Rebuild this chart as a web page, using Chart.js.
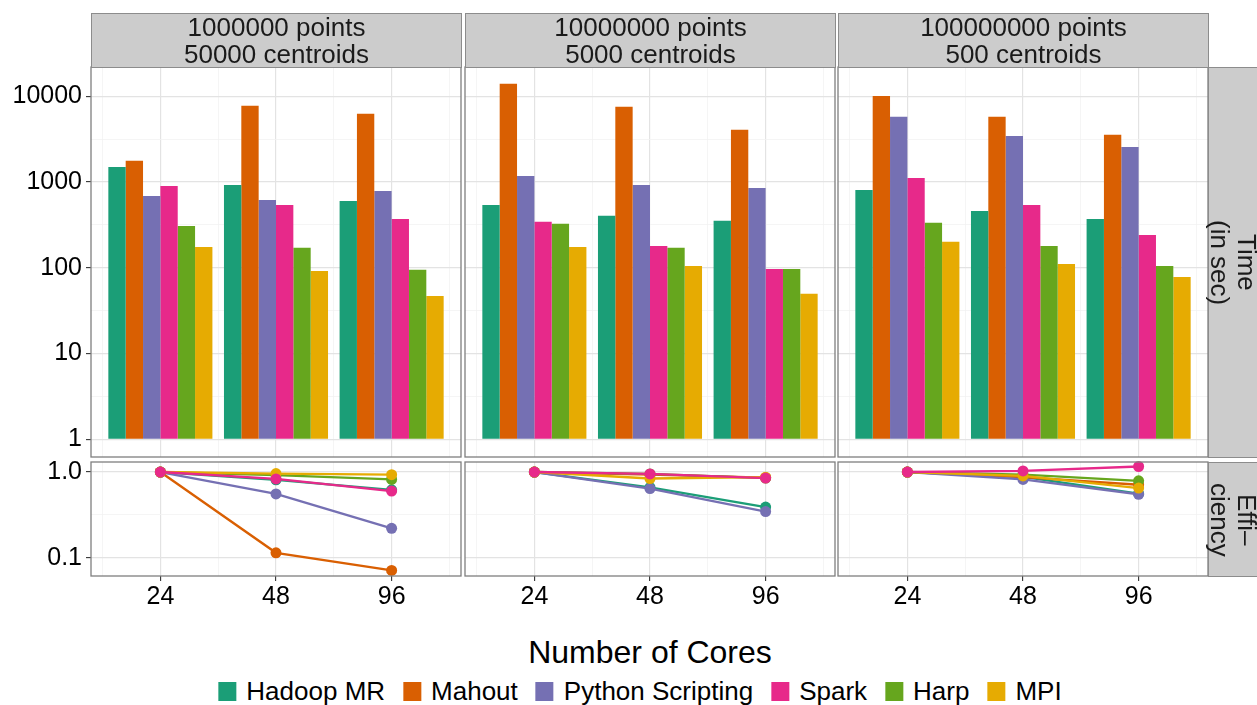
<!DOCTYPE html>
<html>
<head>
<meta charset="utf-8">
<script src="https://cdn.jsdelivr.net/npm/chart.js@4.4.0/dist/chart.umd.min.js"></script>
<style>
  html, body { margin: 0; padding: 0; background: #fff; }
  body { width: 1257px; height: 705px; position: relative; overflow: hidden;
         font-family: "Liberation Sans", Arial, sans-serif; color: #000; }
  canvas { position: absolute; }
  .strip { position: absolute; background: #CCCCCC; border: 1px solid #8C8C8C; box-sizing: border-box;
           display: flex; align-items: center; justify-content: center; text-align: center;
           font-size: 26px; line-height: 27px; color: #1a1a1a; }
  .vstrip { writing-mode: vertical-rl; border-right: none; }
  #xtitle { position: absolute; left: 650px; top: 634px; transform: translateX(-50%);
            font-size: 32px; white-space: nowrap; }
  #legend { position: absolute; left: 640px; top: 676px; transform: translateX(-50%);
            display: flex; align-items: center; white-space: nowrap; font-size: 26px; }
  .item { display: flex; align-items: center; margin-right: 18px; }
  .item:last-child { margin-right: 0; }
  .key { width: 18px; height: 19px; margin-right: 10px; }
</style>
</head>
<body>
<script>
// categories
var cores = ["24", "48", "96"];
var frameworks = ["Hadoop MR", "Mahout", "Python Scripting", "Spark", "Harp", "MPI"];
var colors = ["#1B9E77", "#D95F02", "#7570B3", "#E7298A", "#66A61E", "#E6AB02"];
var facetTitles = [
    ["1000000 points", "50000 centroids"],
    ["10000000 points", "5000 centroids"],
    ["100000000 points", "500 centroids"]
];
var rowTitles = [["Time", "(in sec)"], ["Effi\u2013", "ciency"]];

// time in seconds, one row per framework, values at 24 / 48 / 96 cores
var time1M = [
    [1500, 925, 600],
    [1770, 7750, 6250],
    [690, 620, 790],
    [900, 540, 370],
    [308, 171, 95],
    [175, 92, 47]
];
var time10M = [
    [540, 405, 353],
    [14000, 7550, 4070],
    [1180, 925, 855],
    [344, 180, 97],
    [326, 171, 97],
    [175, 105, 50]
];
var time100M = [
    [810, 460, 372],
    [10100, 5780, 3560],
    [5780, 3460, 2570],
    [1120, 542, 242],
    [335, 180, 105],
    [201, 111, 78]
];

// parallel efficiency, same layout
var eff1M = [
    [1, 0.81, 0.62],
    [1, 0.114, 0.071],
    [1, 0.555, 0.22],
    [1, 0.83, 0.6],
    [1, 0.92, 0.82],
    [1, 0.96, 0.93]
];
var eff10M = [
    [1, 0.66, 0.39],
    [1, 0.93, 0.86],
    [1, 0.64, 0.345],
    [1, 0.95, 0.85],
    [1, 0.95, 0.85],
    [1, 0.84, 0.87]
];
var eff100M = [
    [1, 0.88, 0.56],
    [1, 0.87, 0.71],
    [1, 0.82, 0.55],
    [1, 1.03, 1.16],
    [1, 0.93, 0.79],
    [1, 0.9, 0.65]
];

var timeData = [time1M, time10M, time100M];
var effData = [eff1M, eff10M, eff100M];

// panel geometry (page pixels)
var COLS = [[91, 461], [465, 835], [838, 1208]];
var ROWS = [[67, 457], [462, 576]];
var PAD = 2;
var YLIM = [[0.622, 22000], [0.0611, 1.309]];
var MAJOR = "#E3E3E3", MINOR = "#F2F2F2";

Chart.defaults.font.family = '"Liberation Sans", Arial, sans-serif';
Chart.defaults.font.size = 25;
Chart.defaults.color = "#000";

function isMajorLog(v) {
    var l = Math.log10(v);
    return Math.abs(l - Math.round(l)) < 1e-6;
}

// no extra label padding so the plot area lands exactly on the panel
function noPad(s) {
    s.paddingTop = 0; s.paddingBottom = 0; s.paddingLeft = 0; s.paddingRight = 0;
}

var panelBorder = {
    id: "panelBorder",
    afterDraw: function (chart) {
        var a = chart.chartArea, ctx = chart.ctx;
        ctx.save();
        ctx.strokeStyle = "#7F7F7F";
        ctx.lineWidth = 1.3;
        ctx.strokeRect(a.left, a.top, a.right - a.left, a.bottom - a.top);
        ctx.restore();
    }
};

function makePanel(row, col) {
    var xl = COLS[col][0], xr = COLS[col][1];
    var yt = ROWS[row][0], yb = ROWS[row][1];
    var yAxisW = col === 0 ? xl : 0;
    var xAxisH = row === 1 ? 44 : 0;
    var left = col === 0 ? 0 : xl - PAD;
    var top = yt - PAD;
    var width = xr + PAD - left;
    var height = yb - top + (row === 1 ? xAxisH : PAD);

    var canvas = document.createElement("canvas");
    canvas.width = width;
    canvas.height = height;
    canvas.style.left = left + "px";
    canvas.style.top = top + "px";
    canvas.style.width = width + "px";
    canvas.style.height = height + "px";
    document.body.appendChild(canvas);

    var series = row === 0 ? timeData[col] : effData[col];
    var datasets = frameworks.map(function (name, i) {
        var pts = series[i].map(function (v, j) { return { x: j, y: v }; });
        if (row === 0) {
            return {
                label: name, data: pts, backgroundColor: colors[i],
                borderWidth: 0, base: 1,
                categoryPercentage: 0.9, barPercentage: 1.0
            };
        }
        return {
            label: name, data: pts, borderColor: colors[i], backgroundColor: colors[i],
            borderWidth: 2.3, pointRadius: 5.5, pointBorderWidth: 0,
            pointBackgroundColor: colors[i], tension: 0, clip: 8,
            order: i === 3 ? -1 : 5 - i
        };
    });

    var logTicks = [];
    for (var k = -6; k <= 10; k++) {
        var v = Math.pow(10, k / 2);
        if (v >= YLIM[row][0] && v <= YLIM[row][1]) logTicks.push(v);
    }

    new Chart(canvas, {
        type: row === 0 ? "bar" : "line",
        data: { datasets: datasets },
        plugins: [panelBorder],
        options: {
            responsive: false,
            animation: false,
            layout: {
                autoPadding: false,
                padding: { left: col === 0 ? 0 : PAD, right: PAD, top: PAD, bottom: row === 0 ? PAD : 0 }
            },
            plugins: { legend: { display: false }, tooltip: { enabled: false } },
            scales: {
                x: {
                    type: "linear", min: -0.6, max: 2.6, bounds: "data", offset: false,
                    afterBuildTicks: function (s) { s.ticks = cores.map(function (c, j) { return { value: j }; }); },
                    afterFit: function (s) { s.height = xAxisH; noPad(s); },
                    border: { display: false },
                    grid: { offset: false, color: MAJOR, lineWidth: 1.2, drawTicks: row === 1, tickLength: 5, tickColor: "#333", tickWidth: 1.1 },
                    ticks: {
                        display: row === 1, padding: 1, maxRotation: 0, color: "#000",
                        callback: function (value) { return cores[value]; }
                    }
                },
                xm: {
                    type: "linear", position: "bottom", min: -0.6, max: 2.6, bounds: "data", offset: false,
                    afterBuildTicks: function (s) { s.ticks = [-0.5, 0.5, 1.5, 2.5].map(function (v) { return { value: v }; }); },
                    afterFit: function (s) { s.height = 0; noPad(s); },
                    border: { display: false },
                    grid: { offset: false, color: MINOR, lineWidth: 0.8, drawTicks: false },
                    ticks: { display: false }
                },
                y: {
                    type: "logarithmic", min: YLIM[row][0], max: YLIM[row][1], bounds: "data",
                    afterBuildTicks: function (s) { s.ticks = logTicks.map(function (v) { return { value: v }; }); },
                    afterFit: function (s) { s.width = yAxisW; noPad(s); },
                    border: { display: false },
                    grid: {
                        color: function (c) { return isMajorLog(c.tick.value) ? MAJOR : MINOR; },
                        lineWidth: function (c) { return isMajorLog(c.tick.value) ? 1.2 : 0.8; },
                        drawTicks: col === 0, tickLength: 5, tickWidth: 1.1,
                        tickColor: function (c) { return isMajorLog(c.tick.value) ? "#333" : "rgba(0,0,0,0)"; }
                    },
                    ticks: {
                        display: col === 0, padding: 4, color: "#000",
                        callback: function (value) {
                            if (!isMajorLog(value)) return "";
                            return row === 0 ? String(Math.round(value)) : value.toFixed(1);
                        }
                    }
                }
            }
        }
    });
}

for (var r = 0; r < 2; r++) {
    for (var c = 0; c < 3; c++) makePanel(r, c);
}

// facet strips
facetTitles.forEach(function (lines, c) {
    var d = document.createElement("div");
    d.className = "strip";
    d.style.left = COLS[c][0] + "px";
    d.style.top = "13px";
    d.style.width = (COLS[c][1] - COLS[c][0] + 1) + "px";
    d.style.height = (ROWS[0][0] - 13 + 1) + "px";
    d.innerHTML = lines.join("<br>");
    document.body.appendChild(d);
});
rowTitles.forEach(function (lines, r) {
    var d = document.createElement("div");
    d.className = "strip vstrip";
    d.style.left = COLS[2][1] + "px";
    d.style.top = ROWS[r][0] + "px";
    d.style.width = "49px";
    d.style.height = (ROWS[r][1] - ROWS[r][0] + 1) + "px";
    d.innerHTML = lines.join("<br>");
    document.body.appendChild(d);
});

// axis title
var xt = document.createElement("div");
xt.id = "xtitle";
xt.textContent = "Number of Cores";
document.body.appendChild(xt);

// legend
var lg = document.createElement("div");
lg.id = "legend";
frameworks.forEach(function (name, i) {
    var it = document.createElement("div");
    it.className = "item";
    var k = document.createElement("div");
    k.className = "key";
    k.style.background = colors[i];
    var t = document.createElement("span");
    t.textContent = name;
    it.appendChild(k);
    it.appendChild(t);
    lg.appendChild(it);
});
document.body.appendChild(lg);
</script>
</body>
</html>
